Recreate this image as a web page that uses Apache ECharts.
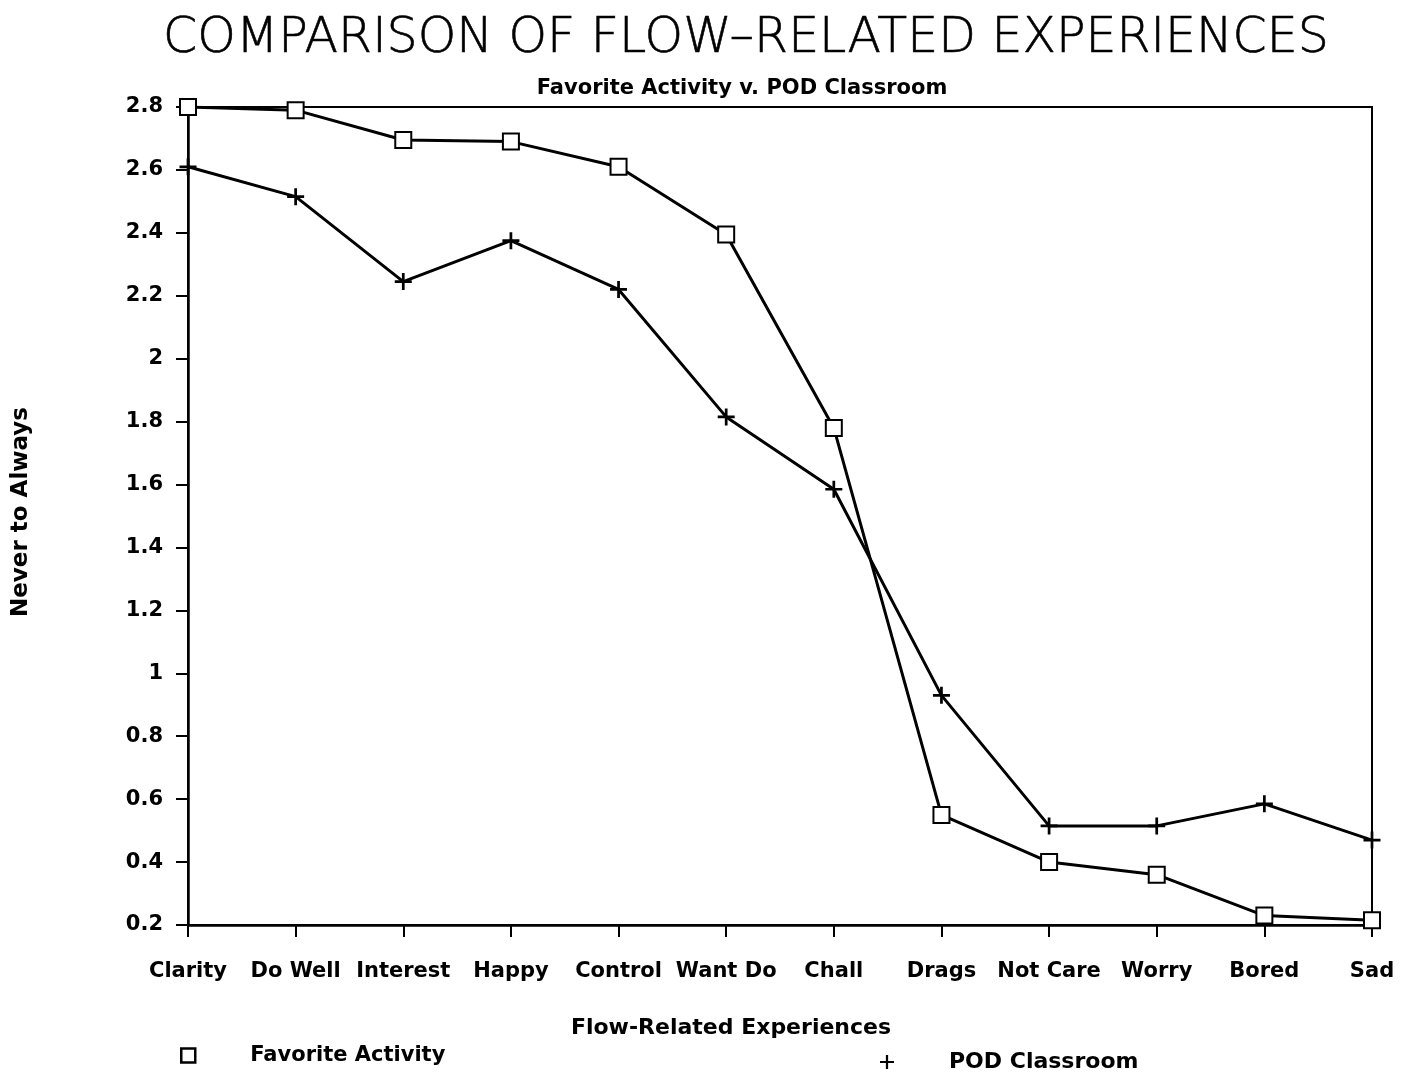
<!DOCTYPE html>
<html><head><meta charset="utf-8">
<script src="https://cdn.jsdelivr.net/npm/echarts@6/dist/echarts.min.js"></script>
<style>html,body{margin:0;padding:0;background:#fff}#c{width:1403px;height:1076px}</style>
</head><body><div id="c"></div>
<script>
var categories = ['Clarity','Do Well','Interest','Happy','Control','Want Do','Chall','Drags','Not Care','Worry','Bored','Sad'];
var favoriteActivity = [2.80, 2.79, 2.695, 2.69, 2.61, 2.395, 1.78, 0.55, 0.40, 0.36, 0.23, 0.215];
var podClassroom = [2.61, 2.515, 2.245, 2.375, 2.22, 1.815, 1.585, 0.93, 0.515, 0.515, 0.585, 0.47];
var yMin = 0.2, yMax = 2.8, yStep = 0.2;

var plusPath = 'path://M4.2,0H5.8V4.2H10V5.8H5.8V10H4.2V5.8H0V4.2H4.2Z';
var FONT = 'DejaVu Sans';
var chart = echarts.init(document.getElementById('c'), null, {renderer:'canvas'});
chart.setOption({
  backgroundColor:'#fff',
  animation:false,
  title:[
    {text:'COMPARISON OF FLOW–RELATED EXPERIENCES', left:741, textAlign:'center', top:10, textStyle:{fontFamily:'DejaVu Sans', fontWeight:200, fontSize:49, color:'#000', textBorderColor:'#000', textBorderWidth:0.6}},
    {text:'Favorite Activity v. POD Classroom', left:737, textAlign:'center', top:73, textStyle:{fontFamily:FONT, fontWeight:'bold', fontSize:21, color:'#000'}}
  ],
  legend:[
    {left:175, top:1040, orient:'horizontal', itemWidth:14, itemHeight:14,
     data:[{name:'Favorite Activity', icon:'rect', itemStyle:{color:'#fff', borderColor:'#000', borderWidth:2.5}}],
     textStyle:{fontFamily:FONT, fontWeight:'bold', fontSize:21, color:'#000', padding:[0,0,0,50]}},
    {left:875, top:1046, orient:'horizontal', itemWidth:14, itemHeight:14,
     data:[{name:'POD Classroom', icon:plusPath, itemStyle:{color:'#000', borderWidth:0}}],
     textStyle:{fontFamily:FONT, fontWeight:'bold', fontSize:22, color:'#000', padding:[0,0,0,50]}}
  ],
  grid:{left:188, right:31, top:107, bottom:151, show:true, borderColor:'#000', borderWidth:2, backgroundColor:'transparent'},
  xAxis:{
    type:'category', data:categories, boundaryGap:false,
    name:'Flow-Related Experiences', nameLocation:'middle', nameGap:92,
    nameTextStyle:{fontFamily:FONT, fontWeight:'bold', fontSize:22, color:'#000', padding:[0,98,0,0]},
    axisLine:{lineStyle:{color:'#000', width:2.5}},
    axisTick:{show:true, inside:false, length:12, lineStyle:{color:'#000', width:2}, alignWithLabel:true},
    axisLabel:{color:'#000', fontFamily:FONT, fontWeight:'bold', fontSize:21, margin:36, interval:0},
    splitLine:{show:false}
  },
  yAxis:{
    type:'value', min:yMin, max:yMax, interval:yStep,
    name:'Never to Always', nameLocation:'middle', nameGap:155, nameRotate:90,
    nameTextStyle:{fontFamily:FONT, fontWeight:'bold', fontSize:23, color:'#000', padding:[0,0,0,8]},
    axisLine:{show:true, lineStyle:{color:'#000', width:2.5}},
    axisTick:{show:true, inside:false, length:12, lineStyle:{color:'#000', width:2}},
    axisLabel:{color:'#000', fontFamily:FONT, fontWeight:'bold', fontSize:21, margin:25,
      formatter:function(v){return String(Math.round(v*10)/10);}},
    splitLine:{show:false}
  },
  series:[
    {name:'Favorite Activity', type:'line', data:favoriteActivity, symbol:'emptyRect', symbolSize:16,
     lineStyle:{color:'#000', width:3}, itemStyle:{color:'#000', borderColor:'#000', borderWidth:2.5}, z:3},
    {name:'POD Classroom', type:'line', data:podClassroom, symbol:plusPath, symbolSize:17,
     lineStyle:{color:'#000', width:3}, itemStyle:{color:'#000', borderWidth:0}, z:2}
  ]
});
</script></body></html>
